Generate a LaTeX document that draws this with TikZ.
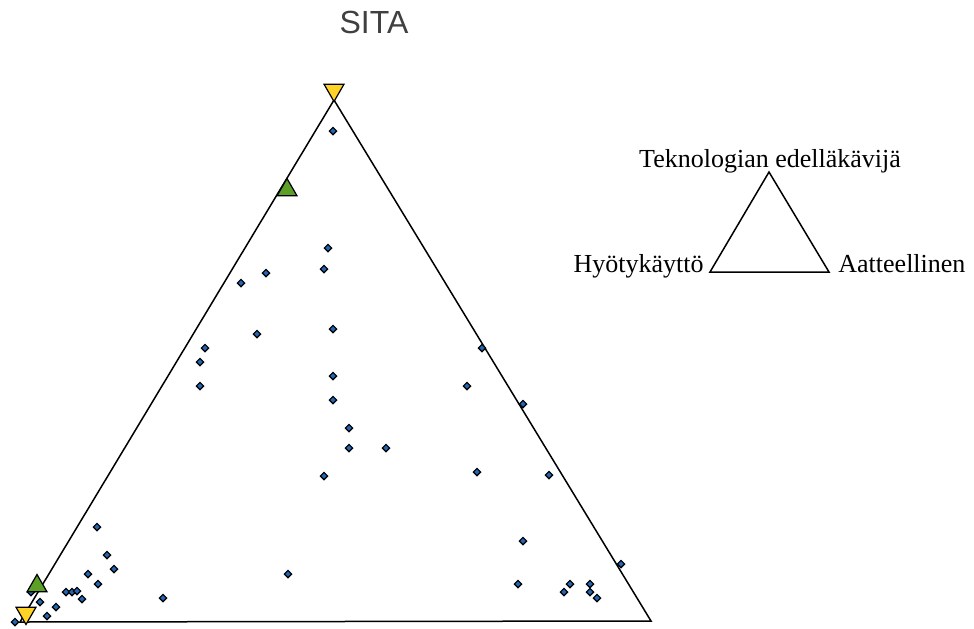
\documentclass[tikz,border=0pt]{standalone}
\usepackage{fontspec}
\setmainfont{Liberation Serif}
\setsansfont{Liberation Sans}
\usepackage{xcolor}
\usepackage{tikz}
\usetikzlibrary{shapes.geometric, positioning}

\definecolor{dotblue}{RGB}{36,100,176}
\definecolor{markgreen}{RGB}{92,160,40}
\definecolor{markyellow}{RGB}{255,210,40}
\definecolor{titlegray}{RGB}{64,64,64}

\tikzset{
  dotmark/.style={diamond, draw=black, fill=dotblue, line width=0.6pt, minimum size=3.9pt, inner sep=0pt},
  upmark/.style={regular polygon, regular polygon sides=3, draw=black, fill=markgreen, line width=0.6pt, minimum size=11.5pt, inner sep=0pt},
  downmark/.style={upmark, shape border rotate=180, fill=markyellow},
  legendtext/.style={font=\fontsize{13pt}{15pt}\selectfont, inner sep=0pt}
}

\begin{document}
\begin{tikzpicture}[x=0.5pt, y=-0.5pt]
\useasboundingbox (0,0) rectangle (974,628);

\node[font=\sffamily\fontsize{16pt}{19pt}\selectfont, text=titlegray, anchor=base, inner sep=0pt] (title) at (374,33) {SITA};

% main triangle
\coordinate (apex) at (334,100);
\coordinate (left) at (20,622);
\coordinate (right) at (651,621);
\draw[line width=0.75pt] (left) -- (right) -- (apex) -- cycle;

% legend
\coordinate (ltop) at (769,172);
\coordinate (lleft) at (710,272);
\coordinate (lright) at (829,272);
\draw[line width=0.75pt] (lleft) -- (lright) -- (ltop) -- cycle;
\node[legendtext, anchor=base] (tech) at (770,167) {Teknologian edelläkävijä};
\node[legendtext, anchor=base east] (hyoty) at (704,272) {Hyötykäyttö};
\node[legendtext, anchor=base west] (aate) at (838,272) {Aatteellinen};

% data points
\foreach \px/\py [count=\i] in {333/131, 328/248, 324/269, 266/273, 241/283, 333/329, 257/334,
    205/348, 200/362, 200/386, 333/376, 333/400, 482/348, 467/386, 523/404,
    349/428, 349/448, 386/448, 324/476, 477/472, 549/475,
    97/527, 107/555, 114/569, 88/574, 98/584, 66/592, 72/592, 77/591, 82/599,
    40/602, 56/607, 47/616, 15/622, 31/592, 163/598, 288/574,
    523/541, 518/584, 570/584, 564/592, 590/584, 590/592, 597/598, 621/564}
  \node[dotmark] (d\i) at (\px,\py) {};

% markers
\node[upmark] (gtop) at (287,190) {};
\node[upmark] (gbot) at (37,586) {};
\node[downmark] (ytop) at (334,90) {};
\node[downmark] (ybot) at (26,613) {};
\end{tikzpicture}
\end{document}
